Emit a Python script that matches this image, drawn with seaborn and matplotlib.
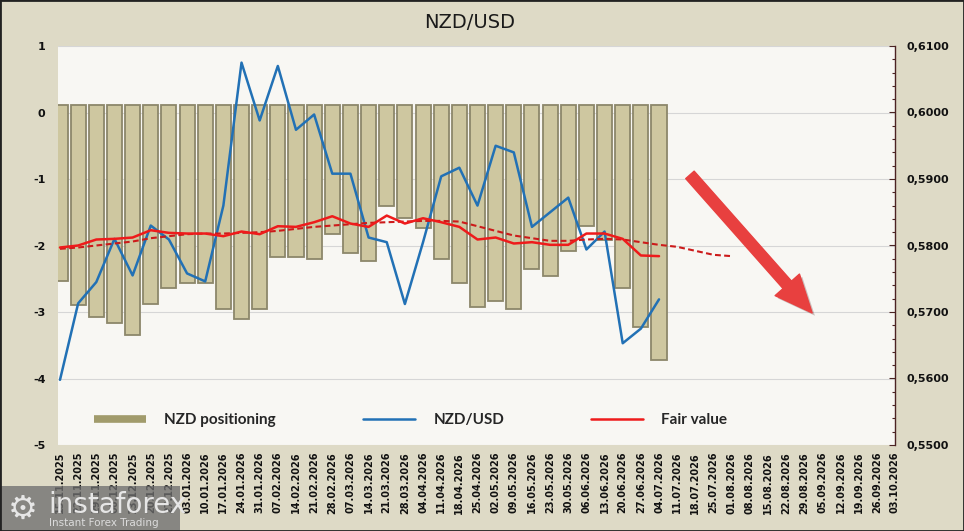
import matplotlib
matplotlib.use("Agg")
import matplotlib.pyplot as plt
import matplotlib.patheffects as pe
from matplotlib.lines import Line2D
from matplotlib.patches import Rectangle
from matplotlib.ticker import FuncFormatter, MultipleLocator
import numpy as np
import pandas as pd
import seaborn as sns

# weekly dates on the x axis
weeks = pd.date_range("2025-11-15", periods=47, freq="7D").strftime("%d.%m.%Y").tolist()

# NZD net positioning (left axis)
positioning = [-2.54, -2.90, -3.07, -3.17, -3.35, -2.88, -2.64, -2.57, -2.57, -2.95,
               -3.10, -2.95, -2.18, -2.18, -2.20, -1.82, -2.11, -2.24, -1.41, -1.59,
               -1.74, -2.20, -2.57, -2.92, -2.83, -2.96, -2.36, -2.46, -2.09, -1.71,
               -1.91, -2.64, -3.22, -3.72]

# NZD/USD rate (right axis)
nzdusd = [0.5598, 0.5713, 0.5745, 0.5810, 0.5755, 0.5830, 0.5809, 0.5758, 0.5746, 0.5860,
          0.6075, 0.5988, 0.6070, 0.5974, 0.5997, 0.5908, 0.5908, 0.5812, 0.5805, 0.5712,
          0.5805, 0.5904, 0.5917, 0.5860, 0.5950, 0.5940, 0.5828, 0.5850, 0.5872, 0.5794,
          0.5821, 0.5653, 0.5675, 0.5719]

# fair value (solid) and its smoothed projection (dashed)
fair_value = [0.5797, 0.5800, 0.5809, 0.5810, 0.5812, 0.5823, 0.5819, 0.5818, 0.5818, 0.5814,
              0.5821, 0.5817, 0.5829, 0.5828, 0.5835, 0.5844, 0.5833, 0.5828, 0.5845, 0.5833,
              0.5841, 0.5835, 0.5828, 0.5809, 0.5812, 0.5803, 0.5805, 0.5801, 0.5801, 0.5818,
              0.5818, 0.5810, 0.5785, 0.5784]
fair_trend = [0.5795, 0.5797, 0.5800, 0.5803, 0.5806, 0.5811, 0.5814, 0.5817, 0.5818, 0.5818,
              0.5819, 0.5820, 0.5822, 0.5825, 0.5828, 0.5830, 0.5832, 0.5834, 0.5835, 0.5836,
              0.5837, 0.5837, 0.5836, 0.5829, 0.5822, 0.5815, 0.5811, 0.5807, 0.5807, 0.5809,
              0.5810, 0.5809, 0.5805, 0.5801, 0.5798, 0.5792, 0.5786, 0.5784]

legend_labels = ["NZD positioning", "NZD/USD", "Fair value"]

sns.set_theme(style="white")
plt.rcParams["font.family"] = ["DejaVu Sans"]

BG = "#dedac6"
PANEL = "#f8f7f3"
BAR = "#cec7a0"
BAR_EDGE = "#8c876a"
BLUE = "#2271b5"
RED = "#ee1b1b"
RED_DARK = "#cc1a1a"
SPINE = "#4b2323"
BASE = 0.12  # bars hang from just above zero

fig, ax = plt.subplots(figsize=(9.64, 5.31), dpi=100)
fig.patch.set_facecolor(BG)
fig.subplots_adjust(left=58 / 964, right=895 / 964, top=1 - 46 / 531, bottom=1 - 445 / 531)
ax.set_facecolor(PANEL)

pos_df = pd.DataFrame({"week": range(len(positioning)),
                       "height": np.array(positioning) - BASE})
sns.barplot(data=pos_df, x="week", y="height", ax=ax, bottom=BASE, width=0.83,
            color=BAR, saturation=1, edgecolor=BAR_EDGE, linewidth=1.3,
            errorbar=None, zorder=2)

ax2 = ax.twinx()
sns.lineplot(x=range(len(nzdusd)), y=nzdusd, ax=ax2, color=BLUE, lw=1.8)
sns.lineplot(x=range(len(fair_trend)), y=fair_trend, ax=ax2, color=RED_DARK, lw=1.5,
             linestyle=(0, (2.8, 1.6)))
sns.lineplot(x=range(len(fair_value)), y=fair_value, ax=ax2, color=RED, lw=1.8)

# x axis
ax.set_xlim(-0.11, 46.0)
ax.set_xticks(range(len(weeks)))
ax.set_xticklabels(weeks, rotation=90, fontsize=7, fontweight="bold", color="#111111")
ax.tick_params(axis="x", length=0, pad=5)
ax.set_xlabel("")
ax.set_ylabel("")

# left axis
ax.set_ylim(-5, 1)
ax.set_yticks(range(-5, 2))
ax.set_yticklabels([str(v) for v in range(-5, 2)], fontsize=8, fontweight="bold", color="#111111")
ax.tick_params(axis="y", length=0, pad=9)
ax.yaxis.grid(True, color="#d6d6d6", lw=0.8)
ax.set_axisbelow(True)
for s in ax.spines.values():
    s.set_visible(False)

# right axis
ax2.set_ylim(0.55, 0.61)
ax2.yaxis.set_major_locator(MultipleLocator(0.01))
ax2.yaxis.set_minor_locator(MultipleLocator(0.002))
ax2.yaxis.set_major_formatter(FuncFormatter(lambda v, p: f"{v:.4f}".replace(".", ",")))
ax2.tick_params(axis="y", which="major", direction="in", length=4, width=0.8, color=SPINE,
                pad=8, labelsize=8, labelcolor="#111111")
ax2.tick_params(axis="y", which="minor", direction="in", length=2.5, width=0.8, color=SPINE)
for lbl in ax2.get_yticklabels():
    lbl.set_fontweight("bold")
ax2.set_ylabel("")
for name, s in ax2.spines.items():
    s.set_visible(name == "right")
ax2.spines["right"].set_color(SPINE)
ax2.spines["right"].set_linewidth(1.0)
ax2.grid(False)

# legend
handles = [Line2D([], [], color="#a19b6b", lw=5.5, solid_capstyle="butt",
                  path_effects=[pe.withSimplePatchShadow(offset=(1, -1.5), alpha=0.3)]),
           Line2D([], [], color=BLUE, lw=1.8),
           Line2D([], [], color=RED, lw=1.8)]
ax2.legend(handles, legend_labels, loc="center left", bbox_to_anchor=(0.043, 0.063),
           ncol=3, frameon=False, handlelength=3.4, handletextpad=1.2, columnspacing=5.7,
           borderpad=0, borderaxespad=0,
           prop=dict(family="Lato", weight="bold", size=11))

# downward arrow
ax2.annotate("", xy=(0.901, 0.331), xytext=(0.755, 0.677), xycoords="axes fraction",
             arrowprops=dict(arrowstyle="simple,head_length=1.5,head_width=1.3,tail_width=0.45",
                             color="#e8403f", mutation_scale=18, shrinkA=0, shrinkB=0,
                             path_effects=[pe.withSimplePatchShadow(offset=(2, -2), alpha=0.25)]))

# title
fig.text(0.4875, 1 - 22 / 531, "NZD/USD", ha="center", va="center", fontsize=14, color="#1a1a1a")

# watermark
fig.patches.append(Rectangle((0, 0), 180 / 964, 45 / 531, transform=fig.transFigure,
                             facecolor="#6f6f6f", alpha=0.78, edgecolor="none", zorder=5))
fig.text(8 / 964, 22 / 531, "\u2699", fontsize=24, color="#e6e6e6", va="center", zorder=6)
fig.text(48 / 964, 26 / 531, "instaforex", fontsize=20, color="#e6e6e6", va="center", zorder=6)
fig.text(49 / 964, 8 / 531, "Instant Forex Trading", fontsize=7.5, color="#dcdcdc", va="center", zorder=6)

# outer frame
fig.patches.append(Rectangle((0, 0), 1, 1, transform=fig.transFigure, facecolor="none",
                             edgecolor="#222222", lw=2, zorder=7))

fig.savefig("out.png", dpi=100, facecolor=fig.get_facecolor())
